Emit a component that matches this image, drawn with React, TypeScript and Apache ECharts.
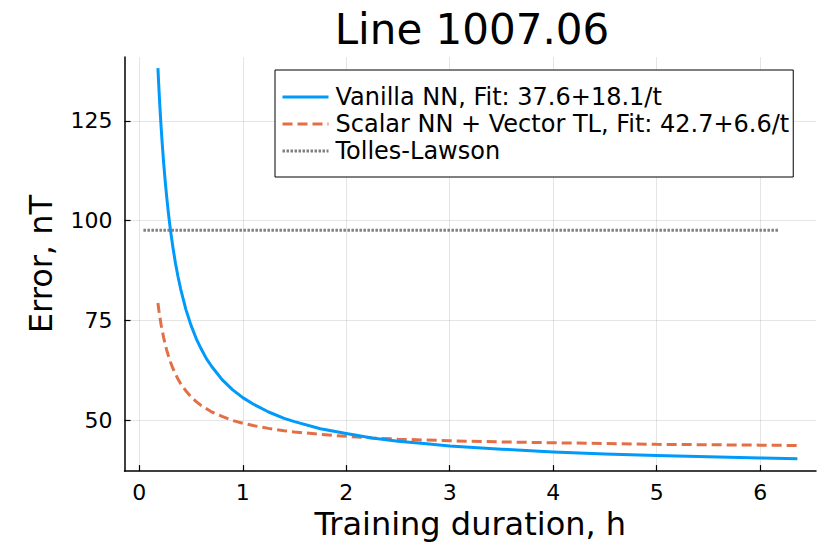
import React, { useEffect, useRef } from "react";
import * as echarts from "echarts";

const titleText = "Line 1007.06";
const xAxisName = "Training duration, h";
const yAxisName = "Error, nT";
const seriesNames = [
  "Vanilla NN, Fit: 37.6+18.1/t",
  "Scalar NN + Vector TL, Fit: 42.7+6.6/t",
  "Tolles-Lawson",
];
const xTicks = [0, 1, 2, 3, 4, 5, 6];
const yTicks = [50, 75, 100, 125];

const durations = [
  0.18, 0.19, 0.2, 0.21, 0.22, 0.235, 0.25, 0.265, 0.28, 0.3, 0.325, 0.35,
  0.375, 0.4, 0.45, 0.5, 0.55, 0.6, 0.65, 0.7, 0.8, 0.9, 1.0, 1.1, 1.25, 1.4,
  1.5, 1.75, 2.0, 2.25, 2.5, 2.75, 3.0, 3.5, 4.0, 4.5, 5.0, 5.5, 6.0, 6.36,
];
const vanillaErr = [
  138.2, 132.9, 128.1, 123.8, 119.9, 114.6, 110.0, 105.9, 102.2, 97.9, 93.3,
  89.3, 85.9, 82.9, 77.8, 73.8, 70.5, 67.8, 65.4, 63.5, 60.2, 57.7, 55.7, 54.1,
  52.1, 50.5, 49.7, 47.9, 46.7, 45.6, 44.8, 44.2, 43.6, 42.8, 42.1, 41.6, 41.2,
  40.9, 40.6, 40.4,
];
const scalarErr = [
  79.4, 77.4, 75.7, 74.1, 72.7, 70.8, 69.1, 67.6, 66.3, 64.7, 63.0, 61.6, 60.3,
  59.2, 57.4, 55.9, 54.7, 53.7, 52.9, 52.1, 51.0, 50.0, 49.3, 48.7, 48.0, 47.4,
  47.1, 46.5, 46.0, 45.6, 45.3, 45.1, 44.9, 44.6, 44.4, 44.2, 44.0, 43.9, 43.8,
  43.7,
];
const tlDurations = [0.04, 6.18];
const tlErr = [97.6, 97.6];

const FONT = "DejaVu Sans";

export default function App() {
  const ref = useRef<HTMLDivElement>(null);
  useEffect(() => {
    document.body.style.margin = "0";
    if (!ref.current) return;
    const chart = echarts.init(ref.current, null, { renderer: "svg" });
    const pair = (xs: number[], ys: number[]) => xs.map((x, i) => [x, ys[i]]);
    chart.setOption({
      animation: false,
      backgroundColor: "#ffffff",
      textStyle: { fontFamily: FONT },
      title: {
        text: titleText,
        left: 467,
        top: 3,
        textAlign: "center",
        textStyle: { fontFamily: FONT, fontSize: 42, fontWeight: "normal", color: "#000" },
      },
      grid: { left: 124.5, right: 14, top: 57, bottom: 73, containLabel: false },
      legend: {
        orient: "vertical",
        left: 275,
        top: 70,
        itemWidth: 46,
        itemHeight: 14,
        itemGap: 3,
        padding: [15, 4, 14, 6],
        borderColor: "#000",
        borderWidth: 1,
        backgroundColor: "#fff",
        itemStyle: { opacity: 0 },
        lineStyle: { width: 3 },
        textStyle: { fontFamily: FONT, fontSize: 24, color: "#000", padding: [0, 0, 0, 2] },
        data: seriesNames,
      },
      xAxis: {
        type: "value",
        min: -0.143,
        max: 6.54,
        name: xAxisName,
        nameLocation: "middle",
        nameGap: 36,
        nameTextStyle: { fontFamily: FONT, fontSize: 32, color: "#000" },
        axisLine: { show: true, onZero: false, lineStyle: { color: "#000", width: 1.5 } },
        axisTick: { show: true, inside: true, length: 6, customValues: xTicks, lineStyle: { color: "#000", width: 1.2 } },
        axisLabel: { customValues: xTicks, fontFamily: FONT, fontSize: 22, color: "#000", margin: 10 },
        splitLine: { show: true, lineStyle: { color: "rgba(0,0,0,0.1)", width: 1 } },
      },
      yAxis: {
        type: "value",
        min: 37.3,
        max: 141,
        name: yAxisName,
        nameLocation: "middle",
        nameGap: 68,
        nameTextStyle: { fontFamily: FONT, fontSize: 32, color: "#000" },
        axisLine: { show: true, onZero: false, lineStyle: { color: "#000", width: 1.5 } },
        axisTick: { show: true, inside: true, length: 6, customValues: yTicks, lineStyle: { color: "#000", width: 1.2 } },
        axisLabel: { customValues: yTicks, fontFamily: FONT, fontSize: 22, color: "#000", margin: 12 },
        splitLine: { show: true, lineStyle: { color: "rgba(0,0,0,0.1)", width: 1 } },
      },
      series: [
        {
          name: seriesNames[0],
          type: "line",
          symbol: "none",
          data: pair(durations, vanillaErr),
          lineStyle: { color: "#009AFA", width: 3, join: "round" },
          itemStyle: { color: "#009AFA" },
          z: 3,
        },
        {
          name: seriesNames[1],
          type: "line",
          symbol: "none",
          data: pair(durations, scalarErr),
          lineStyle: { color: "#E36F47", width: 3, type: [10, 5] },
          itemStyle: { color: "#E36F47" },
          z: 2,
        },
        {
          name: seriesNames[2],
          type: "line",
          symbol: "none",
          data: pair(tlDurations, tlErr),
          lineStyle: { color: "#808080", width: 3, type: [2.5, 1.5] },
          itemStyle: { color: "#808080" },
          z: 1,
        },
      ],
    });
    return () => chart.dispose();
  }, []);
  return <div ref={ref} style={{ width: 830, height: 545 }} />;
}
